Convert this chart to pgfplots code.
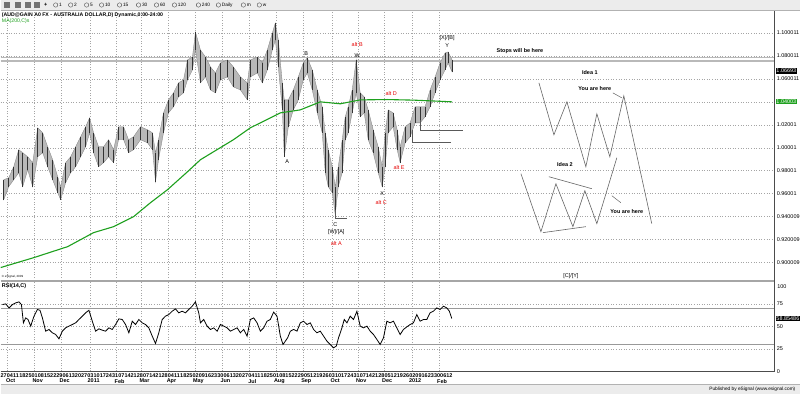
\documentclass[border=0pt]{standalone}
\usepackage{fontspec}
\setmainfont{Liberation Sans}
\usepackage{pgfplots}
\pgfplotsset{compat=1.18}
\usepackage{pgfplotstable}
\definecolor{magreen}{RGB}{30,160,30}
\definecolor{altred}{RGB}{230,0,0}
\definecolor{gridc}{RGB}{165,165,165}
\definecolor{barbg}{RGB}{236,236,236}
\newcommand\tf{\fontsize{5.5}{6}\selectfont}
\newcommand\tfb{\fontsize{5.5}{6}\selectfont\bfseries}

\pgfplotstableread{
x hi lo
3 0.9722 0.9548
8 0.9739 0.9661
13 0.9835 0.9722
18 0.9983 0.9783
22 0.9957 0.9661
27 0.9922 0.9809
32 0.9870 0.9661
37 1.0174 0.9922
42 1.0130 0.9957
47 1.0009 0.9835
52 0.9896 0.9722
57 0.9748 0.9609
60 0.9661 0.9548
65 0.9870 0.9696
70 0.9922 0.9783
75 1.0009 0.9835
80 1.0096 0.9922
85 1.0183 1.0009
89 1.0261 1.0130
93 1.0130 0.9957
98 1.0009 0.9835
103 1.0009 0.9870
108 1.0070 0.9922
113 0.9983 0.9870
118 1.0183 1.0070
123 1.0183 1.0070
128 1.0070 0.9957
133 1.0096 0.9983
140 1.0183 1.0070
147 1.0157 1.0043
152 1.0130 0.9983
155 0.9957 0.9704
158 1.0070 0.9896
163 1.0304 1.0130
168 1.0417 1.0304
173 1.0478 1.0357
178 1.0565 1.0443
183 1.0591 1.0478
187 1.0765 1.0591
192 1.0791 1.0678
195 1.1009 1.0852
200 1.0852 1.0565
205 1.0791 1.0617
210 1.0704 1.0504
215 1.0652 1.0478
220 1.0739 1.0591
227 1.0765 1.0617
233 1.0704 1.0530
240 1.0617 1.0504
247 1.0565 1.0417
250 1.0765 1.0617
257 1.0791 1.0652
262 1.0739 1.0565
267 1.0852 1.0678
272 1.1000 1.0852
275 1.1087 1.0939
278 1.0939 1.0704
282 1.0565 1.0330
284 1.0417 0.9922
288 1.0417 1.0183
293 1.0504 1.0330
298 1.0617 1.0417
303 1.0739 1.0591
307 1.0783 1.0652
312 1.0678 1.0504
317 1.0504 1.0304
322 1.0357 1.0130
325 1.0130 0.9783
328 0.9983 0.9661
332 0.9835 0.9609
335 0.9661 0.9417
338 0.9835 0.9661
342 1.0070 0.9783
345 1.0270 1.0070
348 1.0357 1.0130
352 1.0504 1.0304
356 1.0765 1.0478
360 1.0478 1.0270
364 1.0443 1.0304
368 1.0330 1.0070
373 1.0157 0.9957
378 1.0009 0.9783
382 0.9835 0.9661
385 1.0130 0.9835
388 1.0330 1.0130
393 1.0304 1.0183
397 1.0157 0.9983
400 1.0009 0.9870
405 1.0183 1.0043
410 1.0217 1.0096
415 1.0357 1.0217
420 1.0357 1.0217
425 1.0357 1.0270
430 1.0504 1.0357
435 1.0617 1.0478
440 1.0739 1.0591
445 1.0826 1.0678
448 1.0835 1.0739
452 1.0765 1.0661
}\pricetab

\pgfplotstableread{
x ma
0 0.8957
33 0.9043
67 0.9139
93 0.9261
113 0.9313
133 0.9400
150 0.9522
167 0.9635
187 0.9791
200 0.9896
233 1.0070
250 1.0174
260 1.0217
280 1.0304
300 1.0330
320 1.0400
340 1.0383
360 1.0417
387 1.0420
413 1.0415
440 1.0405
452 1.0400
}\matab

\pgfplotstableread{
x rsi
1.7 74.4
5 75.2
8.3 70.7
11.7 74.4
15 76.3
18.3 77.4
20.7 74.4
22.7 54.1
25 59.6
27.3 57.8
30 50.4
33.3 61.5
36.7 68.9
39.3 68.1
41.7 59.6
45 44.8
48.3 46.7
51.7 43.0
55 41.1
58.3 36.3
61.7 44.8
65 48.5
68.3 50.4
71.7 52.2
75 54.1
78.3 57.8
81.7 61.5
85 65.2
88.3 68.1
91.7 55.9
95 44.8
98.3 47.4
101.7 45.9
105 44.8
108.3 48.5
111.7 46.7
115 52.2
118.3 58.5
121.7 57.8
125 52.2
128.3 43.0
131.7 55.9
135 52.2
138.3 57.8
141.7 54.1
145 52.2
148.3 48.5
151.7 39.3
155 31.1
158.3 43.0
161.7 57.8
165 61.5
168.3 63.3
171.7 67.0
175 69.6
178.3 65.2
181.7 67.0
185 65.2
188.3 68.9
191.7 72.6
195 77.4
198.3 65.2
200 54.1
203.3 57.8
206.7 50.4
210 46.7
213.3 48.5
216.7 44.8
220 52.2
223.3 50.4
226.7 48.5
230 44.8
233.3 46.7
236.7 48.5
240 43.0
243.3 46.7
246.7 39.3
250 57.8
253.3 59.6
256.7 54.1
260 44.8
263.3 48.5
266.7 55.9
270 57.8
273.3 66.0
276.7 61.5
280 39.3
282.7 30.0
285 33.7
287.3 37.4
290 44.8
293.3 46.7
296.7 44.8
300 54.1
303.3 55.9
306.7 52.2
310 54.1
313.3 46.7
316.7 43.0
320 44.8
323.3 39.3
326.7 33.7
330 30.0
333.3 26.3
336 28.1
338.3 37.4
341.7 48.5
344 57.8
346.7 54.1
350 61.5
353.3 57.8
356.7 67.0
360 50.4
363.3 48.5
366.7 50.4
370 44.8
373.3 41.1
376.7 35.6
380 30.0
383.3 37.4
386.7 55.9
390 54.1
393.3 55.9
396.7 48.5
400 41.1
403.3 46.7
406.7 49.6
410 52.2
413.3 54.1
416.7 63.3
420 55.9
423.3 57.8
426.7 57.8
430 65.2
433.3 67.0
436.7 70.7
440 68.9
443.3 72.6
446.7 70.7
449.3 67.0
451.7 58.85
}\rsitab

\begin{document}
\begin{tikzpicture}
\begin{scope}[x=1bp,y=1bp]
\path[use as bounding box] (0,0) rectangle (800,395);
\fill[white] (0,0) rectangle (800,395);
\end{scope}

% ---------- main price panel ----------
\begin{axis}[at={(0bp,114bp)}, anchor=south west, width=775bp, height=271bp,
  scale only axis, clip=false,
  xmin=0, xmax=775, ymin=0.88435, ymax=1.12,
  axis line style={draw=none}, major tick length=0pt,
  xtick=\empty,
  ytick={0.90,0.92,0.94,0.96,0.98,1.00,1.02,1.04,1.06,1.08,1.10},
  yticklabels={0.900009,0.920009,0.940009,0.96001,0.98001,1.00001,1.02001,{},1.060011,1.080011,1.100011},
  ymajorgrids, yticklabel pos=right,
  yticklabel style={font=\tf, anchor=west, inner sep=0pt, xshift=2bp},
  grid style={gridc, line width=0.5bp, dash pattern=on 1bp off 1.6bp},
]
% vertical month grid (data region only)
\addplot[gridc, line width=0.5bp, dash pattern=on 1bp off 1.6bp, unbounded coords=jump] coordinates {
(7,0.88435)(7,1.12)(7,nan)(34,0.88435)(34,1.12)(34,nan)(61,0.88435)(61,1.12)(61,nan)(90,0.88435)(90,1.12)(90,nan)
(116,0.88435)(116,1.12)(116,nan)(141,0.88435)(141,1.12)(141,nan)(168,0.88435)(168,1.12)(168,nan)(195,0.88435)(195,1.12)(195,nan)
(222,0.88435)(222,1.12)(222,nan)(249,0.88435)(249,1.12)(249,nan)(276,0.88435)(276,1.12)(276,nan)(303,0.88435)(303,1.12)(303,nan)
(332,0.88435)(332,1.12)(332,nan)(358,0.88435)(358,1.12)(358,nan)(384,0.88435)(384,1.12)(384,nan)(412,0.88435)(412,1.12)(412,nan)
(439,0.88435)(439,1.12)};
% stops band
\addplot[gray!55, line width=1.3bp] coordinates {(0,1.07870) (775,1.07870)};
\addplot[gray!55, line width=1.3bp] coordinates {(0,1.07565) (775,1.07565)};
% price range band (high envelope forward, low envelope backward)
\addplot[fill=gray!55, draw=black!50, line width=0.3bp] coordinates {
(3,0.9722)(8,0.9739)(13,0.9835)(18,0.9983)(22,0.9957)(27,0.9922)(32,0.9870)(37,1.0174)(42,1.0130)(47,1.0009)(52,0.9896)(57,0.9748)(60,0.9661)(65,0.9870)(70,0.9922)(75,1.0009)(80,1.0096)(85,1.0183)(89,1.0261)(93,1.0130)(98,1.0009)(103,1.0009)(108,1.0070)(113,0.9983)(118,1.0183)(123,1.0183)(128,1.0070)(133,1.0096)(140,1.0183)(147,1.0157)(152,1.0130)(155,0.9957)(158,1.0070)(163,1.0304)(168,1.0417)(173,1.0478)(178,1.0565)(183,1.0591)(187,1.0765)(192,1.0791)(195,1.1009)(200,1.0852)(205,1.0791)(210,1.0704)(215,1.0652)(220,1.0739)(227,1.0765)(233,1.0704)(240,1.0617)(247,1.0565)(250,1.0765)(257,1.0791)(262,1.0739)(267,1.0852)(272,1.1000)(275,1.1087)(278,1.0939)(282,1.0565)(284,1.0417)(288,1.0417)(293,1.0504)(298,1.0617)(303,1.0739)(307,1.0783)(312,1.0678)(317,1.0504)(322,1.0357)(325,1.0130)(328,0.9983)(332,0.9835)(335,0.9661)(338,0.9835)(342,1.0070)(345,1.0270)(348,1.0357)(352,1.0504)(356,1.0765)(360,1.0478)(364,1.0443)(368,1.0330)(373,1.0157)(378,1.0009)(382,0.9835)(385,1.0130)(388,1.0330)(393,1.0304)(397,1.0157)(400,1.0009)(405,1.0183)(410,1.0217)(415,1.0357)(420,1.0357)(425,1.0357)(430,1.0504)(435,1.0617)(440,1.0739)(445,1.0826)(448,1.0835)(452,1.0765)
(452,1.0661)(448,1.0739)(445,1.0678)(440,1.0591)(435,1.0478)(430,1.0357)(425,1.0270)(420,1.0217)(415,1.0217)(410,1.0096)(405,1.0043)(400,0.9870)(397,0.9983)(393,1.0183)(388,1.0130)(385,0.9835)(382,0.9661)(378,0.9783)(373,0.9957)(368,1.0070)(364,1.0304)(360,1.0270)(356,1.0478)(352,1.0304)(348,1.0130)(345,1.0070)(342,0.9783)(338,0.9661)(335,0.9417)(332,0.9609)(328,0.9661)(325,0.9783)(322,1.0130)(317,1.0304)(312,1.0504)(307,1.0652)(303,1.0591)(298,1.0417)(293,1.0330)(288,1.0183)(284,0.9922)(282,1.0330)(278,1.0704)(275,1.0939)(272,1.0852)(267,1.0678)(262,1.0565)(257,1.0652)(250,1.0617)(247,1.0417)(240,1.0504)(233,1.0530)(227,1.0617)(220,1.0591)(215,1.0478)(210,1.0504)(205,1.0617)(200,1.0565)(195,1.0852)(192,1.0678)(187,1.0591)(183,1.0478)(178,1.0443)(173,1.0357)(168,1.0304)(163,1.0130)(158,0.9896)(155,0.9704)(152,0.9983)(147,1.0043)(140,1.0070)(133,0.9983)(128,0.9957)(123,1.0070)(118,1.0070)(113,0.9870)(108,0.9922)(103,0.9870)(98,0.9835)(93,0.9957)(89,1.0130)(85,1.0009)(80,0.9922)(75,0.9835)(70,0.9783)(65,0.9696)(60,0.9548)(57,0.9609)(52,0.9722)(47,0.9835)(42,0.9957)(37,0.9922)(32,0.9661)(27,0.9809)(22,0.9661)(18,0.9783)(13,0.9722)(8,0.9661)(3,0.9548)
} -- cycle;
% individual high-low bars
\addplot[only marks, mark=*, mark size=0pt, mark options={draw=none,fill=none},
  error bars/.cd, y dir=both, y explicit,
  error mark=none, error bar style={draw=black!80, line width=0.6bp}]
  table[x=x, y expr={(\thisrow{hi}+\thisrow{lo})/2}, y error expr={(\thisrow{hi}-\thisrow{lo})/2}]{\pricetab};
% MA 200
\addplot[magreen, line width=1.1bp] table[x=x,y=ma]{\matab};
% support lines
\addplot[black!65, line width=0.7bp] coordinates {(420,1.02435) (420,1.01478) (463,1.01478)};
\addplot[black!65, line width=0.7bp] coordinates {(412,1.01565) (412,1.00435) (451,1.00435)};
\addplot[black!65, line width=0.7bp] coordinates {(335,0.94609) (335,0.93826) (347,0.93826)};
% idea 1
\addplot[black!60, line width=0.6bp] coordinates {(539,1.05652) (554,1.01130) (567,1.04000) (586,0.98348) (597,1.02957) (610,0.99217) (624,1.04522) (652,0.93391)};
\addplot[black!60, line width=0.5bp] coordinates {(613,1.04783) (622,1.04348)};
% idea 2
\addplot[black!60, line width=0.6bp] coordinates {(521,0.97739) (541,0.92696) (556,0.96870) (573,0.93130) (585,0.96261) (597,0.93391) (617,0.99130)};
\addplot[black!60, line width=0.6bp] coordinates {(549,0.97478) (592,0.96435)};
\addplot[black!60, line width=0.6bp] coordinates {(543,0.92609) (586,0.93130)};
\addplot[black!60, line width=0.5bp] coordinates {(612,0.95826) (621,0.95217)};
% labels
\node[font=\tf] at (axis cs:287,0.98783) {A};
\node[font=\tf] at (axis cs:306,1.08174) {B};
\node[font=\tf] at (axis cs:335,0.93304) {C};
\node[font=\tf] at (axis cs:336,0.92696) {[W]/[A]};
\node[font=\tf, text=altred] at (axis cs:336,0.91652) {alt A};
\node[font=\tf, text=altred] at (axis cs:357,1.08957) {alt B};
\node[font=\tf] at (axis cs:357,1.08000) {W};
\node[font=\tf] at (axis cs:382,0.96000) {X};
\node[font=\tf, text=altred] at (axis cs:381,0.95217) {alt C};
\node[font=\tf, text=altred] at (axis cs:399,0.98261) {alt E};
\node[font=\tf, text=altred] at (axis cs:391,1.04696) {alt D};
\node[font=\tf] at (axis cs:447,1.09565) {[X]/[B]};
\node[font=\tf] at (axis cs:447,1.08870) {Y};
\node[font=\tfb] at (axis cs:520,1.08435) {Stops will be here};
\node[font=\tfb] at (axis cs:590,1.06522) {Idea 1};
\node[font=\tfb] at (axis cs:595,1.05130) {You are here};
\node[font=\tfb] at (axis cs:565,0.98522) {Idea 2};
\node[font=\tfb] at (axis cs:627,0.94435) {You are here};
\node[font=\tf] at (axis cs:571,0.88783) {[C]/[Y]};
% value boxes
\node[fill=black, text=white, font=\tf, inner sep=0.7bp, anchor=west] at (axis cs:776,1.06693) {1.06693};
\node[fill=magreen, text=white, font=\tf, inner sep=0.7bp, anchor=west] at (axis cs:776,1.04003) {1.04003};
\end{axis}

% ---------- RSI panel ----------
\begin{axis}[at={(0bp,23bp)}, anchor=south west, width=775bp, height=90bp,
  scale only axis, clip=false,
  xmin=0, xmax=775, ymin=0, ymax=100,
  axis line style={draw=none}, major tick length=0pt,
  xtick={7,34,61,90,116,141,168,195,222,249,276,303,332,358,384,412,439},
  xticklabels={Oct,Nov,Dec,2011,Feb,Mar,Apr,May,Jun,Jul,Aug,Sep,Oct,Nov,Dec,2012,Feb},
  xticklabel style={font=\tfb, anchor=north, inner sep=0pt, yshift=-7.5bp, xshift=3bp},
  extra x ticks={3,9.2,...,449.5},
  extra x tick labels={27,04,11,18,25,01,08,15,22,29,06,13,20,27,03,10,17,24,31,07,14,21,28,07,14,21,28,04,11,18,25,02,09,16,23,30,06,13,20,27,04,11,18,25,01,08,15,22,29,05,12,19,26,03,10,17,24,31,07,14,21,28,05,12,19,26,02,09,16,23,30,06,12},
  extra x tick style={grid=none, xticklabel style={yshift=5bp, xshift=-3bp}},
  xmajorgrids,
  ytick={0,25,50,75}, yticklabels={0,25,50,75},
  ymajorgrids, yticklabel pos=right,
  yticklabel style={font=\tf, anchor=west, inner sep=0pt, xshift=2bp},
  grid style={gridc, line width=0.5bp, dash pattern=on 1bp off 1.6bp},
]
\addplot[gray!80, line width=0.9bp] coordinates {(0,70) (775,70)};
\addplot[gray!80, line width=0.9bp] coordinates {(0,30) (775,30)};
\addplot[black, line width=0.8bp] table[x=x,y=rsi]{\rsitab};
\node[font=\tf, inner sep=0pt, anchor=west] at (axis cs:777.5,94.5) {100};
\node[fill=black, text=white, font=\tf, inner sep=0.7bp, anchor=west] at (axis cs:776,58.85) {58.85486};
\end{axis}

% ---------- frame and decorations ----------
\begin{scope}[x=1bp,y=1bp]
\draw[gray!70, line width=1.5bp] (0,113.5) -- (775,113.5);
\draw[black!70, line width=0.6bp] (0,23) -- (775,23);
\draw[black!70, line width=0.6bp] (775,23) -- (775,385);
% toolbar
\fill[barbg] (0,385) rectangle (800,395);
\draw[gray!60, line width=0.5bp] (0,385) -- (800,385);
\foreach \ix in {6,17,27,36} {\fill[black!55] (\ix-3,387) rectangle (\ix+3,393);}
\node[font=\tfb] at (45,390) {+};
\foreach \cx/\lab in {55/1,70/2,86/5,101/10,119/15,138/30,156/60,174/120,198/240,218/Daily,243/m,259/w} {
  \draw[black!70, line width=0.4bp] (\cx,390) circle (2.2);
  \node[font=\fontsize{4.8}{5}\selectfont, anchor=west, inner sep=0pt] at (\cx+3.3,390) {\lab};
}
% header
\node[font=\fontsize{5.2}{6}\selectfont\bfseries, anchor=west, inner sep=0pt] at (1,380) {(AUD@GAIN A0 FX - AUSTRALIA DOLLAR,D) Dynamic,0:00-24:00};
\node[font=\fontsize{5.2}{6}\selectfont, text=magreen, anchor=west, inner sep=0pt] at (1,374) {MA(200,C)s};
\node[font=\fontsize{3}{3}\selectfont, anchor=west, inner sep=0pt] at (1,118) {\textcopyright\ eSignal, 2009};
\node[font=\tfb, anchor=west, inner sep=0pt] at (1,108) {RSI(14,C)};
% status bar
\fill[barbg] (0,0) rectangle (800,10);
\draw[gray!60, line width=0.5bp] (0,10) -- (800,10);
\node[font=\fontsize{4.8}{5}\selectfont, anchor=east, inner sep=0pt] at (796,5) {Published by eSignal (www.esignal.com)};
\end{scope}
\end{tikzpicture}
\end{document}
